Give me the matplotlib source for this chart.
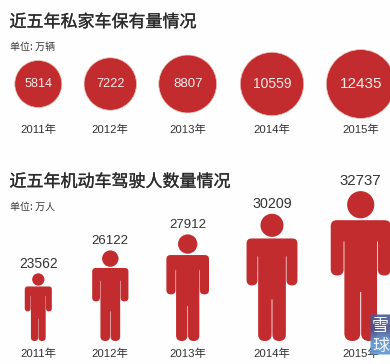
import numpy as np
import matplotlib
matplotlib.use("Agg")
import matplotlib.pyplot as plt
import matplotlib.patheffects as pe
from matplotlib.patches import Circle, PathPatch, FancyBboxPatch
from matplotlib.path import Path

# ---- data ----
years = ["2011年", "2012年", "2013年", "2014年", "2015年"]
car_values = [5814, 7222, 8807, 10559, 12435]
driver_values = [23562, 26122, 27912, 30209, 32737]
title_cars = "近五年私家车保有量情况"
title_drivers = "近五年机动车驾驶人数量情况"
unit_cars = "单位: 万辆"
unit_drivers = "单位: 万人"

# ---- layout / style ----
W, H = 390, 364
RED = "#c22c2e"
DARK = "#333333"
LATIN = ["Liberation Sans", "Noto Sans CJK SC"]
CJK = ["Noto Sans CJK SC", "Liberation Sans"]
centers = [38.3, 110.3, 187.7, 272.0, 360.7]
px = 72 / 100  # pixel -> points at 100 dpi

fig = plt.figure(figsize=(W / 100, H / 100), dpi=100, facecolor="#fefefe")
ax = fig.add_axes([0, 0, 1, 1])
ax.set_xlim(0, W)
ax.set_ylim(H, 0)
ax.axis("off")


def rounded_poly(pts):
    """Closed path from (x, y, corner radius) vertices."""
    verts, codes = [], []
    n = len(pts)
    for i, (x, y, r) in enumerate(pts):
        p = np.array([x, y], float)
        a = np.array(pts[i - 1][:2], float)
        b = np.array(pts[(i + 1) % n][:2], float)
        if r > 0:
            s = p + (a - p) / np.linalg.norm(a - p) * r
            e = p + (b - p) / np.linalg.norm(b - p) * r
            verts += [s, p, e]
            codes += [Path.LINETO, Path.CURVE3, Path.CURVE3]
        else:
            verts.append(p)
            codes.append(Path.LINETO)
    codes[0] = Path.MOVETO
    verts.append(verts[0])
    codes.append(Path.CLOSEPOLY)
    return np.array(verts), codes


right = [
    (0.200, 0.194, 0.040),
    (0.200, 0.563, 0.042),
    (0.114, 0.563, 0.042),
    (0.114, 0.336, 0),
    (0.109, 0.336, 0),
    (0.109, 1.000, 0.052),
    (0.003, 1.000, 0.052),
    (0.003, 0.673, 0),
]
left = [(-x, y, r) for x, y, r in reversed(right)]
BODY = right + left


def person(cx, foot, h):
    top = foot - h
    verts, codes = rounded_poly(BODY)
    verts = verts * h + np.array([cx, top])
    ax.add_patch(PathPatch(Path(verts, codes), fc=RED, ec="none", zorder=2))
    r = 0.0907 * h
    ax.add_patch(Circle((cx, top + r), r, fc=RED, ec="none", zorder=2))
    return top


# titles
for y, t in [(22, title_cars), (181.7, title_drivers)]:
    ax.text(9.5, y, t, fontsize=17 * px, family=CJK, color="#2b2b2b",
            ha="left", va="center",
            path_effects=[pe.withStroke(linewidth=0.2, foreground="#2b2b2b")])
for y, t in [(47, unit_cars), (207, unit_drivers)]:
    ax.text(10, y, t, fontsize=10 * px, family=CJK, color="#3a3a3a",
            ha="left", va="center")

# circles: area proportional to value
car_font = [12.6, 12.8, 13.2, 13.9, 15.3]
for cx, v, fs in zip(centers, car_values, car_font):
    r = 0.3085 * np.sqrt(v)
    ax.add_patch(Circle((cx, 84), r, fc=RED, ec="#e8c4b8", lw=0.5, zorder=2))
    ax.text(cx, 84, str(v), color="#f6ecea", fontsize=fs * px, family=LATIN,
            ha="center", va="center", zorder=3)

# people: height on a linear scale of the value
driver_font = [13.8, 13.2, 13.2, 14.2, 15.0]
for cx, v, fs in zip(centers, driver_values, driver_font):
    h = 108.4 + 0.00896 * (v - 28108)
    top = person(cx, 341, h)
    ax.text(cx, top - 0.62 * fs - 1, str(v), color=DARK, fontsize=fs * px,
            family=LATIN, ha="center", va="center", zorder=3)

# year labels
for y in (130, 354):
    for cx, t in zip(centers, years):
        ax.text(cx, y, t, color=DARK, fontsize=11.4 * px, family=LATIN,
                ha="center", va="center", zorder=3)

# watermark
grad = np.array([[0.0], [0.35], [0.65], [1.0]])
cmap = matplotlib.colors.LinearSegmentedColormap.from_list(
    "wm", ["#4a5a94", "#48548c", "#5f8fc8", "#6096cf"])
im = ax.imshow(grad, extent=(370, 390, 355, 314), cmap=cmap, aspect="auto",
               alpha=0.92, zorder=4, interpolation="bilinear")
clip = FancyBboxPatch((370.5, 314.5), 30, 40, boxstyle="round,pad=0,rounding_size=2",
                      transform=ax.transData, fc="none", ec="none")
ax.add_patch(clip)
im.set_clip_path(clip)
ax.set_xlim(0, W)
ax.set_ylim(H, 0)
for y, t in [(326.5, "雪"), (345.5, "球")]:
    ax.text(380.5, y, t, color="#f4f6fa", fontsize=17 * px, family=CJK,
            ha="center", va="center", zorder=5)

fig.savefig("out.png", dpi=100, facecolor=fig.get_facecolor())
